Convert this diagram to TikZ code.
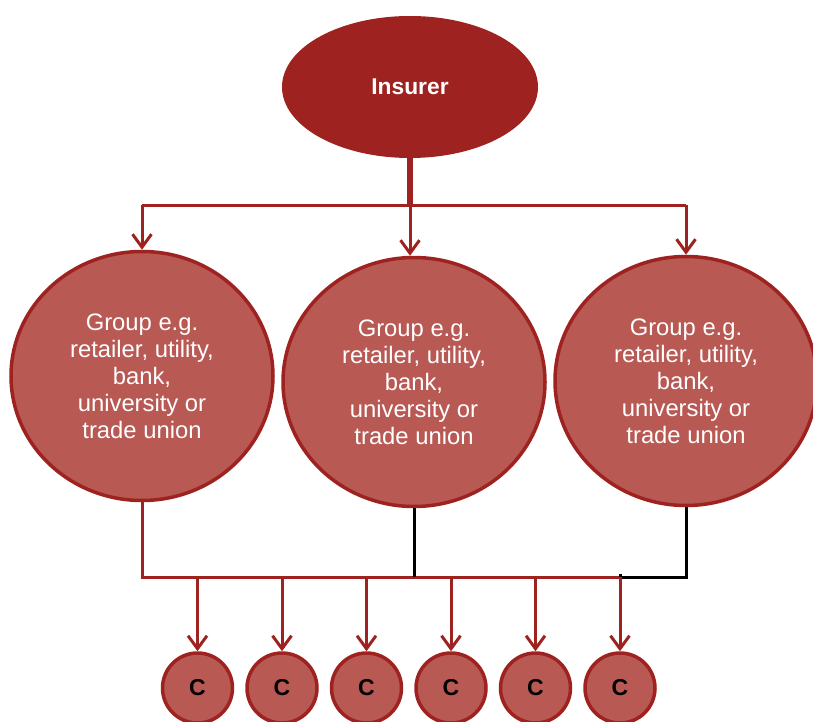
\documentclass[tikz,border=0pt]{standalone}
\usepackage{fontspec}
\setmainfont{Liberation Sans}
\usetikzlibrary{arrows.meta,shapes.geometric}
\definecolor{dred}{RGB}{158,35,32}
\definecolor{mred}{RGB}{184,89,84}
\begin{document}
\begin{tikzpicture}[x=1pt,y=-1pt,
  insurerbox/.style={ellipse, draw=dred, fill=dred, line width=2pt, minimum width=254pt, minimum height=140pt, inner sep=0pt, text=white, font=\fontsize{22.8}{26}\selectfont\bfseries},
  grp/.style={ellipse, draw=dred, fill=mred, line width=3.5pt, minimum width=262pt, minimum height=249pt, inner sep=0pt, text=white, align=center, font=\fontsize{23.8}{27}\selectfont},
  cnode/.style={circle, draw=dred, fill=mred, line width=3.5pt, minimum size=70pt, inner sep=0pt, text=black, font=\fontsize{23}{25}\selectfont\bfseries},
  redline/.style={draw=dred, line width=3pt},
  blackline/.style={draw=black, line width=3pt},
  arr/.style={draw=dred, line width=3pt, -{Straight Barb[length=13pt,width=19pt,line width=3pt]}}
]
\clip (0,0) rectangle (813,722);
\node[insurerbox] (ins) at (410,87) {Insurer};
\node[grp] (g1) at (142,376) {Group e.g.\\retailer, utility,\\bank,\\university or\\trade union};
\node[grp] (g2) at (414,382) {Group e.g.\\retailer, utility,\\bank,\\university or\\trade union};
\node[grp] (g3) at (686,381) {Group e.g.\\retailer, utility,\\bank,\\university or\\trade union};
\foreach \i/\x in {1/197.5,2/282,3/366.5,4/451,5/535.5,6/620}{
  \node[cnode] (c\i) at (\x,688) {C};
}
% top connectors
\coordinate (tj) at (410,205);
\draw[draw=dred, line width=6pt] (ins.south) -- (tj);
\draw[redline] (g1.north |- tj) -- (g3.north |- tj);
\draw[arr] (g1.north |- tj) -- (g1.north);
\draw[arr] (tj) -- (tj |- g2.north);
\draw[arr] (g3.north |- tj) -- (g3.north);
% bottom connectors
\coordinate (bj) at (142,577);
\draw[redline, line cap=rect] (g1.south) -- (bj) -- (c6.north |- bj);
\draw[blackline] (g2.south) -- (g2.south |- bj);
\draw[blackline, line join=miter] (g3.south) -- (g3.south |- bj) -- (c6.north |- bj) -- ++(0,-3);
\foreach \i in {1,...,6}{
  \draw[arr] (c\i.north |- bj) -- (c\i.north);
}
\end{tikzpicture}
\end{document}
